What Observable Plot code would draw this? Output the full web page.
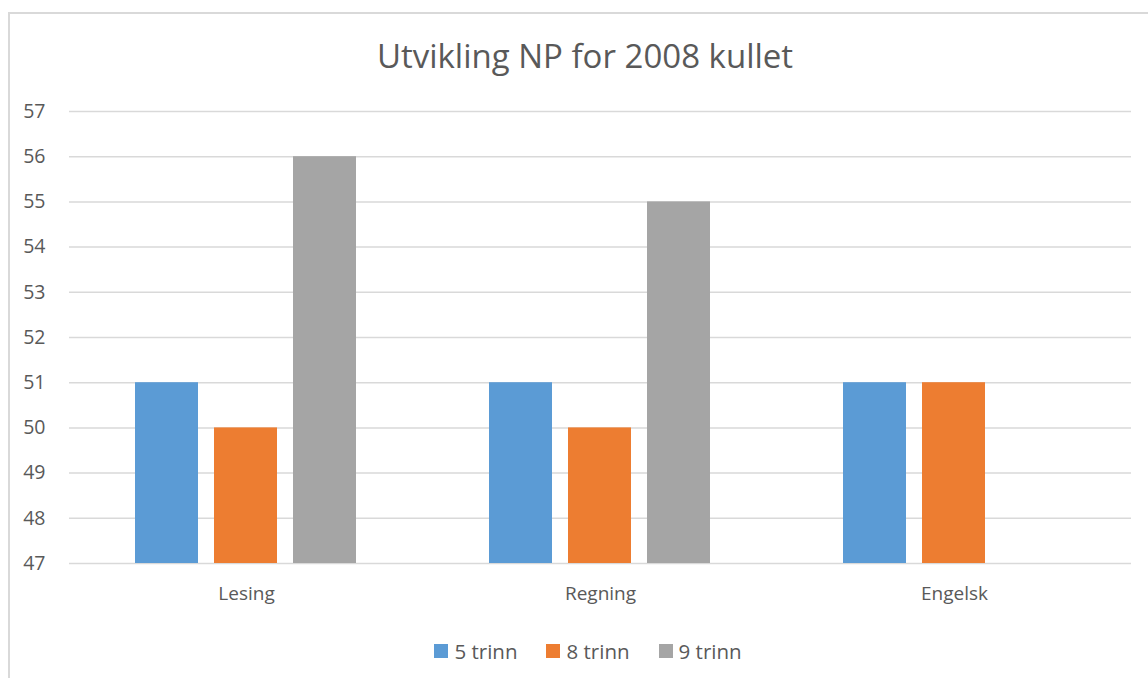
<!DOCTYPE html>
<html>
<head>
<meta charset="utf-8">
<script src="https://cdn.jsdelivr.net/npm/d3@7"></script>
<script src="https://cdn.jsdelivr.net/npm/@observablehq/plot@0.6"></script>
<style>
  body { margin: 0; background: #fff; font-family: "Open Sans", "Noto Sans", sans-serif; }
  #wrap { position: relative; width: 1148px; height: 678px; overflow: hidden; }
  #frame { position: absolute; left: 8px; top: 12px; width: 1200px; height: 700px; border: 2px solid #D9D9D9; box-sizing: border-box; }
  #title { position: absolute; left: 0; width: 1170px; top: 36px; text-align: center; font-size: 33px; color: #595959; line-height: 40px; }
  #chart { position: absolute; left: 0; top: 90px; }
  #legend { position: absolute; left: 0; width: 1176px; top: 638px; display: flex; justify-content: center; gap: 29px; font-size: 20.5px; color: #595959; line-height: 26px; }
  .item { display: flex; align-items: center; gap: 6px; }
  .sw { width: 14px; height: 14px; display: inline-block; }
</style>
</head>
<body>
<div id="wrap">
  <div id="frame"></div>
  <div id="title">Utvikling NP for 2008 kullet</div>
  <div id="chart"></div>
  <div id="legend"></div>
</div>
<script>
const categories = ["Lesing", "Regning", "Engelsk"];
const seriesNames = ["5 trinn", "8 trinn", "9 trinn"];
const colors = ["#5B9BD5", "#ED7D31", "#A5A5A5"];
const values5 = [51, 51, 51];
const values8 = [50, 50, 51];
const values9 = [56, 55, null];
const yTicks = [47, 48, 49, 50, 51, 52, 53, 54, 55, 56, 57];

const allValues = [values5, values8, values9];
const data = [];
categories.forEach((c, i) => {
  seriesNames.forEach((s, j) => {
    const v = allValues[j][i];
    if (v != null) data.push({category: c, series: s, value: v});
  });
});

const chart = Plot.plot({
  width: 1148,
  height: 530,
  marginLeft: 69,
  marginRight: 17,
  marginTop: 21,
  marginBottom: 57,
  style: {fontFamily: "'Open Sans', 'Noto Sans', sans-serif", color: "#595959", background: "transparent"},
  fx: {domain: categories, padding: 0, label: null},
  x: {domain: seriesNames, paddingInner: 0.2, paddingOuter: 0.84, axis: null},
  y: {domain: [47, 57], ticks: yTicks, label: null},
  color: {domain: seriesNames, range: colors},
  marks: [
    Plot.gridY(yTicks, {stroke: "#D9D9D9", strokeOpacity: 1, strokeWidth: 1.5, facetAnchor: null}),
    Plot.axisY(yTicks, {tickSize: 0, tickPadding: 24, fontSize: 19.5, fill: "#595959", label: null, textAnchor: "end"}),
    Plot.axisFx({tickSize: 0, tickPadding: 23, fontSize: 19, fill: "#595959", label: null, anchor: "bottom"}),
    Plot.barY(data, {fx: "category", x: "series", y1: 47, y2: "value", fill: "series"})
  ]
});
document.getElementById("chart").appendChild(chart);

const legend = document.getElementById("legend");
seriesNames.forEach((s, j) => {
  const item = document.createElement("div");
  item.className = "item";
  const sw = document.createElement("span");
  sw.className = "sw";
  sw.style.background = colors[j];
  const t = document.createElement("span");
  t.textContent = s;
  item.appendChild(sw);
  item.appendChild(t);
  legend.appendChild(item);
});
</script>
</body>
</html>
